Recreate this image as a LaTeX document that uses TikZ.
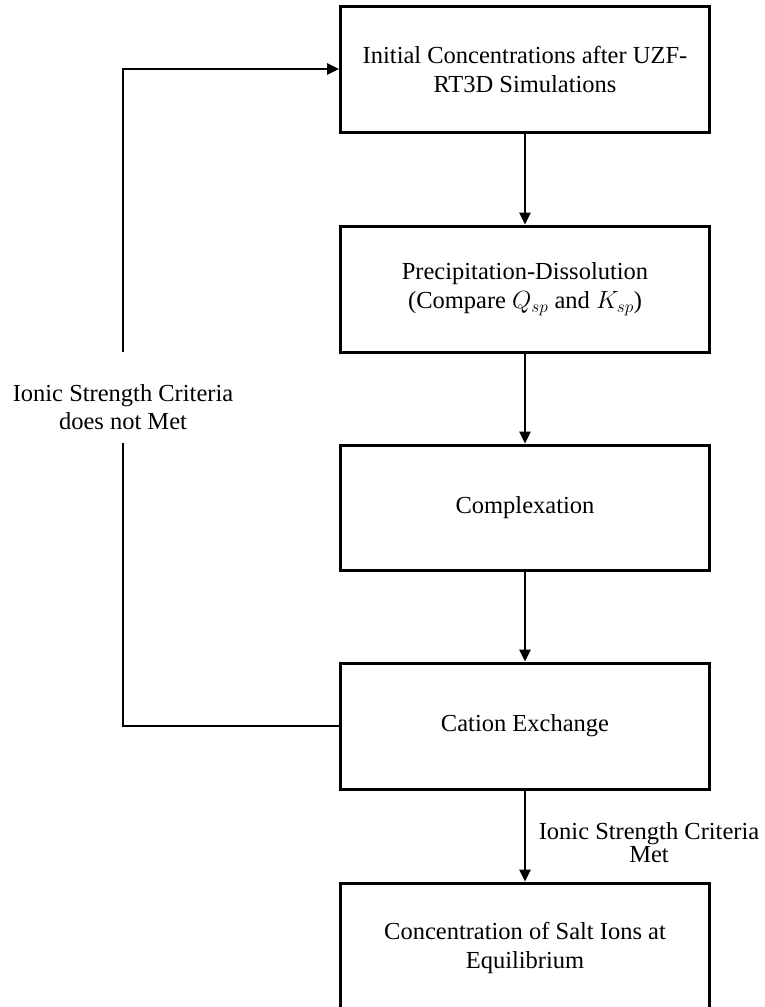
\documentclass[tikz,border=0pt]{standalone}
\usepackage{fontspec}
\setmainfont{Liberation Serif}
\usetikzlibrary{arrows.meta}
\begin{document}
\begin{tikzpicture}[x=1pt,y=-1pt,
  box/.style={draw, line width=3pt, minimum width=369pt, minimum height=126pt, align=center, inner sep=0pt, font=\fontsize{24.5}{29}\selectfont},
  conn/.style={line width=2.5pt},
  arr/.style={conn, -{Triangle[length=12pt,width=11pt]}},
  lbl/.style={align=center, inner sep=0pt}]
\useasboundingbox (0,0) rectangle (765,1007);
\fill[white] (0,0) rectangle (765,1007);
\node[box] (b1) at (525,69) {Initial Concentrations after UZF-\\RT3D Simulations};
\node[box] (b2) at (525,289) {Precipitation-Dissolution\\(Compare $Q_{sp}$ and $K_{sp}$)};
\node[box, minimum height=125pt] (b3) at (525,507.5) {Complexation};
\node[box] (b4) at (525,726) {Cation Exchange};
\node[box, minimum height=129pt] (b5) at (525,947.5) {Concentration of Salt Ions at\\Equilibrium};
\draw[arr] (b1.south) -- (b2.north);
\draw[arr] (b2.south) -- (b3.north);
\draw[arr] (b3.south) -- (b4.north);
\draw[arr] (b4.south) -- (b5.north);
\node[lbl, font=\fontsize{24.5}{28}\selectfont] (fb) at (123,407) {Ionic Strength Criteria\\does not Met};
\node[lbl, font=\fontsize{24.5}{23}\selectfont] (ok) at (649,843) {Ionic Strength Criteria\\Met};
\coordinate (gapTop) at (123,352);
\coordinate (gapBot) at (123,443);
\draw[conn] (b4.west) -| (gapBot);
\draw[arr] (gapTop) |- (b1.west);
\end{tikzpicture}
\end{document}
